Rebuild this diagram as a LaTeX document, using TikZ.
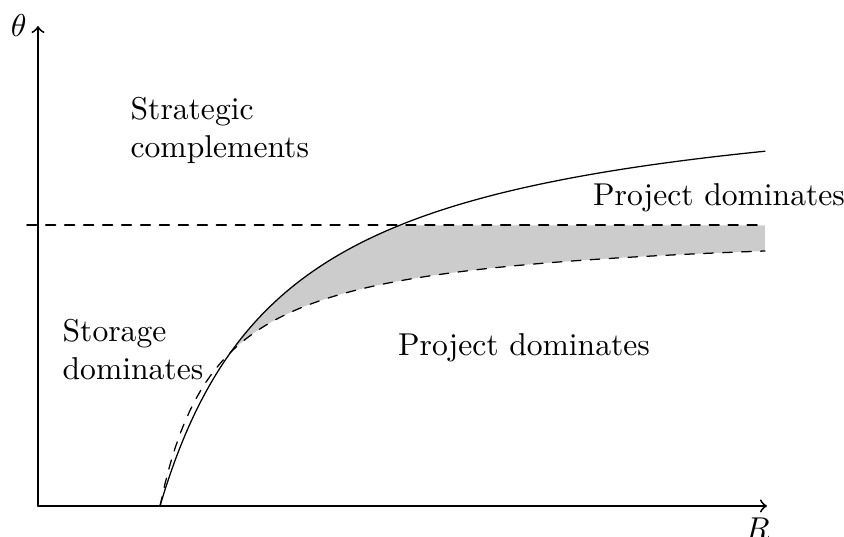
\documentclass[tikz,border=0pt]{standalone}
\begin{document}
\begin{tikzpicture}[line join=round, line cap=round, x=0.3165pt, y=0.3165pt,
            declare function={fs(\t)=100*(4.29*\t/(\t+126.6)); fd(\t)=100*(2.793*\t/(\t+57.7));
              xmax=729; ymax=480; hline=280.7; },
            lbl/.style={align=left}
            ]
            \useasboundingbox (-38,-31) rectangle (806,506);
            %Vùng tô xám giữa hai đường cong
            \fill[gray!40] plot[domain=70.8:239.6, samples=60] ({122+\x},{fs(\x)}) -- (727,hline) -- (727,{fd(605)})
              -- plot[domain=605:70.8, samples=60] ({122+\x},{fd(\x)}) -- cycle;
            \draw[semithick,->] (0,0) coordinate (O) -- (xmax,0) node[below,xshift=-3pt] (R) {$R$};
            \draw[semithick,->] (O) -- (0,ymax) node[left] (th) {$\theta$};
            \draw[semithick, dashed] (-11,hline) -- (727,hline);
            %Hai đường cong
            \draw[thin] plot[domain=0:605, samples=120] ({122+\x},{fs(\x)});
            \draw[thin, dashed] plot[domain=0:605, samples=120] ({122+\x},{fd(\x)});
            \node[lbl, anchor=west] (sc) at (81.5,376) {Strategic\\complements};
            \node[lbl, anchor=west] (sd) at (13.5,156) {Storage\\dominates};
            \node (pd1) at (486,158) {Project dominates};
            \node (pd2) at (681,308) {Project dominates};
        \end{tikzpicture}
\end{document}
